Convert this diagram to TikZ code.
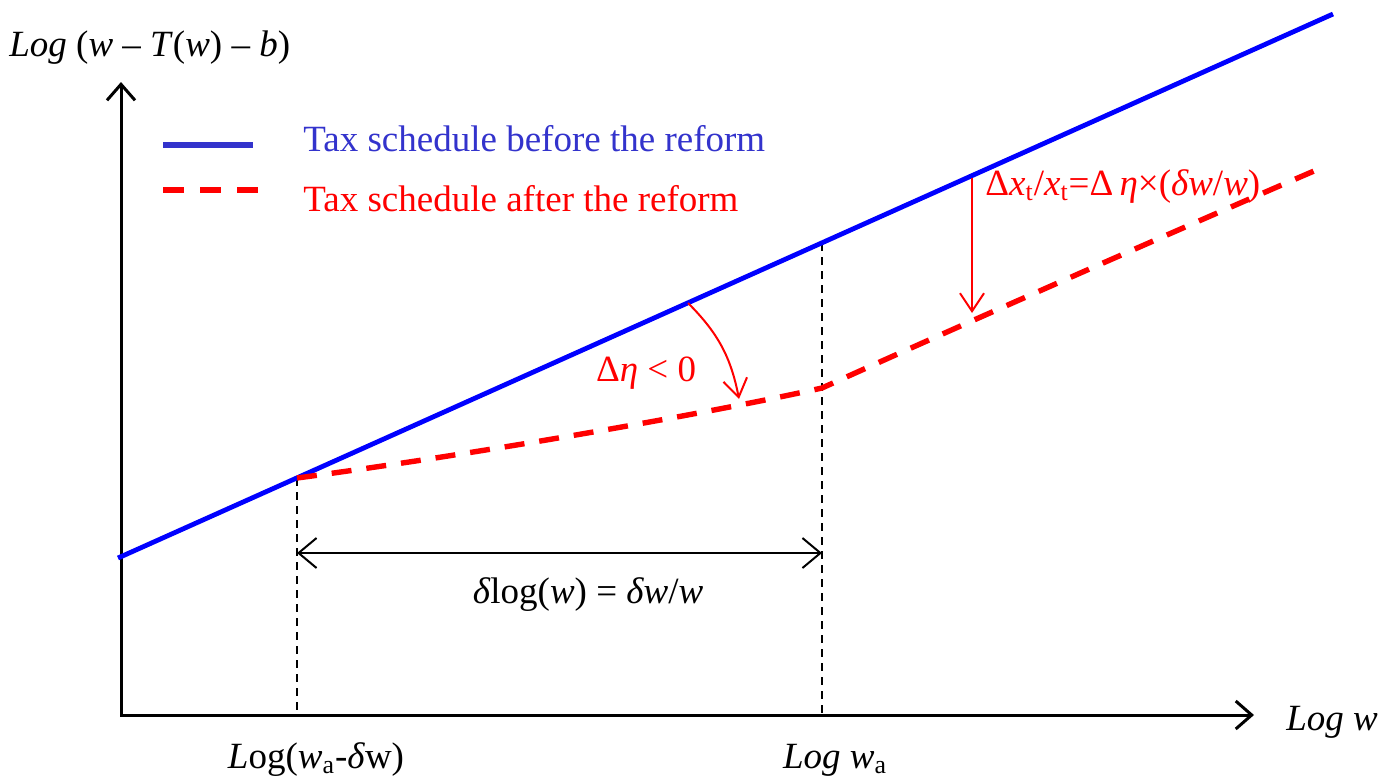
\documentclass[tikz,border=0pt]{standalone}
\usepackage{fontspec}
\setmainfont{Liberation Serif}
\usetikzlibrary{arrows.meta,positioning,calc}
\definecolor{schedblue}{HTML}{0000FF}
\definecolor{legblue}{HTML}{3333CC}
\definecolor{reformred}{HTML}{FF0000}

\begin{document}
\begin{tikzpicture}[x=0.5pt,y=-0.5pt,
  lbl/.style={font=\fontsize{18.5}{22}\selectfont, inner sep=0pt},
  axis/.style={line width=1.5pt, {Straight Barb[length=8pt,width=14pt]}-{Straight Barb[length=8pt,width=14pt]}},
  guide/.style={black, line width=0.75pt, dash pattern=on 4pt off 3pt},
  before/.style={schedblue, line width=2.4pt},
  after/.style={reformred, line width=2.7pt, dash pattern=on 10pt off 7.5pt},
  redarrow/.style={reformred, line width=1pt, -{Straight Barb[length=9pt,width=12pt]}}]
\useasboundingbox (0,0) rectangle (1397,778);

% axes
\coordinate (ytop) at (121,82);
\coordinate (O) at (121,715);
\coordinate (xend) at (1254,715);
\draw[axis] (ytop) -- (O) -- (xend);

% points on the schedules
\coordinate (b0) at (118,558);
\coordinate (b1) at (1333,14);
\coordinate (A) at (297,478);
\coordinate (Atop) at (297,478);
\coordinate (Bup) at (822,243);
\coordinate (B) at (822,388);
\coordinate (C) at (1321,168);
\coordinate (Abase) at (297,715);
\coordinate (Bbase) at (822,715);

% guides
\draw[guide] (Atop) -- (Abase);
\draw[guide] (Bup) -- (Bbase);

% schedules
\draw[before] (b0) -- (b1);
\draw[after] (A) .. controls (470,455) and (700,415) .. (B)
  .. controls (950,330) and (1200,220) .. (C);

% width of the band
\coordinate (dl) at (297,553);
\coordinate (dr) at (822,553);
\draw[line width=1pt, {Straight Barb[length=9pt,width=15pt]}-{Straight Barb[length=9pt,width=15pt]}] (dl) -- (dr);

% red arrows
\coordinate (rot0) at (688,303);
\coordinate (rot1) at (739,399);
\draw[redarrow] (rot0) to[bend left=17] (rot1);
\coordinate (sh0) at (972,178);
\coordinate (sh1) at (972,313);
\draw[redarrow] (sh0) -- (sh1);

% legend
\coordinate (lg0) at (163,145);
\coordinate (lg1) at (253,145);
\coordinate (lr0) at (163,190);
\coordinate (lr1) at (262,190);
\draw[legblue, line width=3pt] (lg0) -- (lg1);
\draw[reformred, line width=3pt, dash pattern=on 10.5pt off 8pt] (lr0) -- (lr1);
\node[lbl, legblue, anchor=base west] (legbefore) at (303,151) {Tax schedule before the reform};
\node[lbl, reformred, anchor=base west] (legafter) at (303,211) {Tax schedule after the reform};

% labels
\node[lbl, anchor=base west] (ylab) at (9,56) {\textit{Log} (\textit{w} – \textit{T}(\textit{w}) – \textit{b})};
\node[lbl, anchor=base west] (xlab) at (1286,730) {\textit{Log w}};
\node[lbl, anchor=base] (wlow) at (316,768) {\textit{L}og(\textit{w}\textsubscript{a}-\textit{δ}w)};
\node[lbl, anchor=base] (wa) at (835,768) {\textit{Log w}\textsubscript{a}};
\node[lbl, anchor=base] (dlog) at (588,603) {\textit{δ}log(\textit{w}) = \textit{δw}/\textit{w}};
\node[lbl, reformred, anchor=base] (deta) at (646,381) {Δ\textit{η} < 0};
\node[lbl, reformred, anchor=base west] (dxt) at (985,195) {Δ\textit{x}\textsubscript{t}/\textit{x}\textsubscript{t}=Δ\,\textit{η}×(\textit{δw}/\textit{w})};
\end{tikzpicture}
\end{document}
